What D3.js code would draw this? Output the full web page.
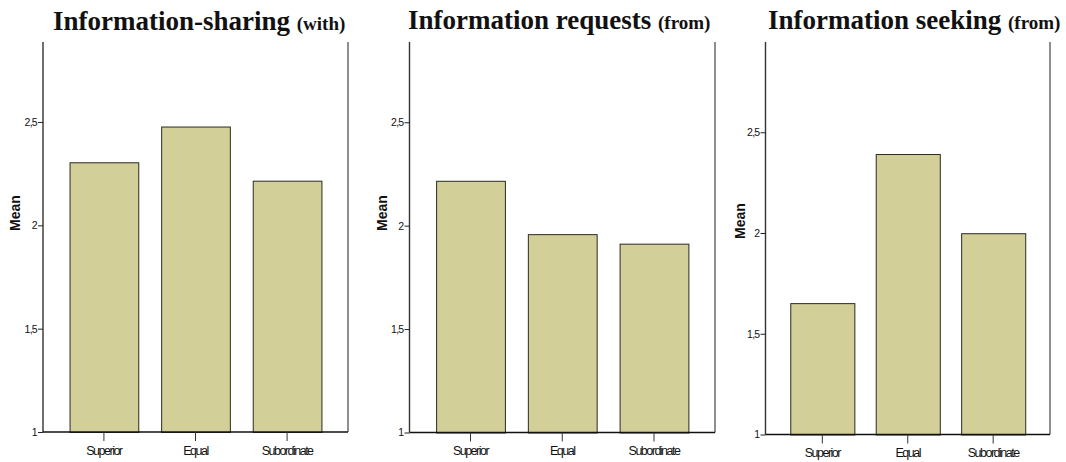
<!DOCTYPE html>
<html><head><meta charset="utf-8">
<script src="https://cdn.jsdelivr.net/npm/d3@7/dist/d3.min.js"></script>
<style>
body{margin:0;background:#fff;}
svg{display:block;}
</style></head>
<body><svg id="c" width="1066" height="462"></svg>
<script>
const categories = ["Superior", "Equal", "Subordinate"];
const titlesMain = ["Information-sharing", "Information requests", "Information seeking"];
const titlesSub = ["(with)", "(from)", "(from)"];
const sharingValues = [2.305, 2.478, 2.216];
const requestsValues = [2.217, 1.959, 1.913];
const seekingValues = [1.652, 2.392, 1.999];
const yTicks = [1, 1.5, 2, 2.5];
const yTickLabels = ["1", "1,5", "2", "2,5"];
const yLabel = "Mean";

const series = [sharingValues, requestsValues, seekingValues];
// layout of each panel (pixels)
const panels = [
  {left: 43, right: 348, top: 42, bottom: 432, ymax: 2.887, titleX: 53, titleY: 30, labelX: 20, labelY: 213},
  {left: 409.5, right: 715, top: 42, bottom: 432.5, ymax: 2.888, titleX: 408, titleY: 28.5, labelX: 387, labelY: 213},
  {left: 765.5, right: 1050, top: 42, bottom: 434.5, ymax: 2.948, titleX: 768, titleY: 28.5, labelX: 745, labelY: 221}
];

const svg = d3.select("#c");

panels.forEach((p, i) => {
  const g = svg.append("g");
  const x = d3.scaleBand().domain(categories).range([p.left, p.right]).paddingInner(0.25).paddingOuter(0.29);
  const y = d3.scaleLinear().domain([1, p.ymax]).range([p.bottom, p.top]);

  // bars
  g.selectAll("rect.bar").data(series[i]).join("rect")
    .attr("class", "bar")
    .attr("x", (d, j) => x(categories[j]) + 0.5)
    .attr("width", x.bandwidth())
    .attr("y", d => y(d) + 0.5)
    .attr("height", d => y(1) - y(d))
    .attr("fill", "#d3cf98")
    .attr("stroke", "#2a2a22")
    .attr("stroke-width", 1);

  // frame: left, right, bottom
  g.append("line").attr("x1", p.left).attr("x2", p.left).attr("y1", p.top).attr("y2", p.bottom)
    .attr("stroke", "#333").attr("stroke-width", 1.4);
  g.append("line").attr("x1", p.right).attr("x2", p.right).attr("y1", p.top).attr("y2", p.bottom)
    .attr("stroke", "#444").attr("stroke-width", 1.2);
  g.append("line").attr("x1", p.left).attr("x2", p.right).attr("y1", p.bottom).attr("y2", p.bottom)
    .attr("stroke", "#111").attr("stroke-width", 1.3);

  // y axis
  const ya = d3.axisLeft(y).tickValues(yTicks).tickSize(5).tickPadding(1)
    .tickFormat((d, k) => yTickLabels[k]);
  const yg = g.append("g").attr("transform", `translate(${p.left},0)`).call(ya);
  yg.select(".domain").remove();
  yg.selectAll(".tick line").attr("stroke", "#222");
  yg.selectAll(".tick text").attr("font-family", "Liberation Sans, Arial, sans-serif")
    .attr("font-size", 10.5).attr("letter-spacing", "-0.7").attr("fill", "#111");

  // x axis
  const xa = d3.axisBottom(x).tickSize(9).tickPadding(5);
  const xg = g.append("g").attr("transform", `translate(0,${p.bottom})`).call(xa);
  xg.select(".domain").remove();
  xg.selectAll(".tick line").attr("stroke", "#333");
  xg.selectAll(".tick text").attr("font-family", "Liberation Sans, Arial, sans-serif")
    .attr("font-size", 12.5).attr("letter-spacing", "-1.5").attr("fill", "#111");

  // y label
  g.append("text").attr("transform", `translate(${p.labelX},${p.labelY}) rotate(-90)`)
    .attr("text-anchor", "middle")
    .attr("font-family", "Liberation Sans, Arial, sans-serif")
    .attr("font-weight", "bold").attr("font-size", 14).attr("fill", "#111")
    .text(yLabel);

  // title
  const t = g.append("text").attr("x", p.titleX).attr("y", p.titleY)
    .attr("font-family", "Liberation Serif, Times New Roman, serif")
    .attr("font-weight", "bold").attr("fill", "#111");
  t.append("tspan").attr("font-size", 27).text(titlesMain[i] + " ");
  t.append("tspan").attr("font-size", 19).text(titlesSub[i]);
});
</script>
</body></html>
